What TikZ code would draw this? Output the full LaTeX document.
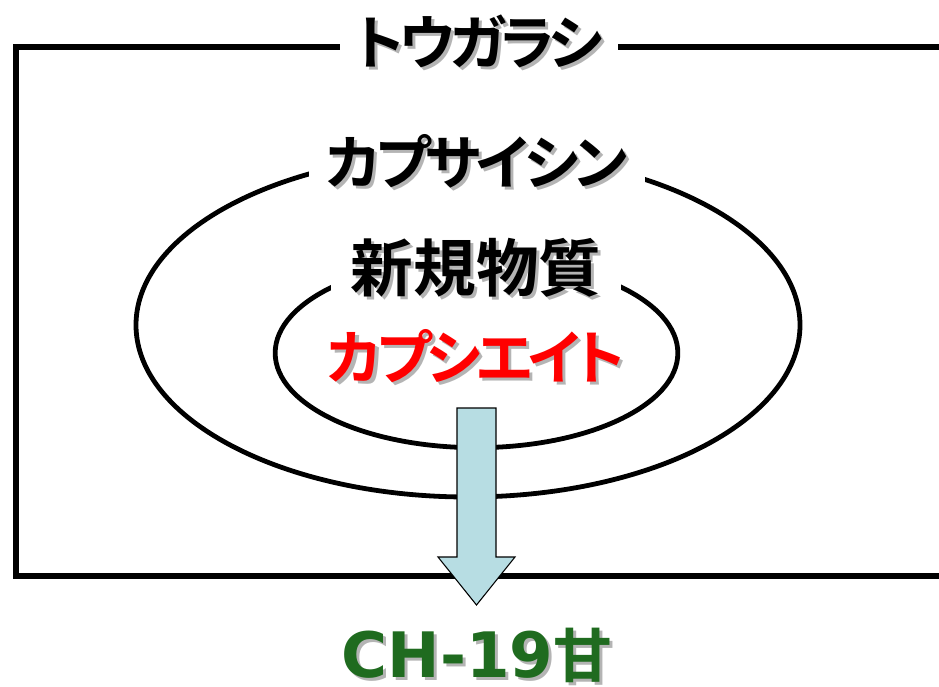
\documentclass[tikz,border=0pt]{standalone}
\usepackage{fontspec}
\usetikzlibrary{calc}
\newfontfamily\jpfont[RawFeature=+palt]{Noto Sans CJK JP Bold}
\newfontfamily\kanafont[RawFeature=+palt, LetterSpace=-8]{Noto Sans CJK JP Bold}
\newfontfamily\latinfont{DejaVu Sans Bold}
\definecolor{ink}{HTML}{000000}
\definecolor{shade}{HTML}{B4B4B4}
\definecolor{hot}{HTML}{FF0000}
\definecolor{leaf}{HTML}{1F6B1F}
\definecolor{flow}{HTML}{B7DDE3}
\tikzset{
  frame/.style={draw=ink, line width=4.5pt},
  ring/.style={draw=ink, line width=3.6pt},
  ttl/.style={
    anchor=base, fill=white, inner xsep=13pt, inner ysep=3pt,
    font=\kanafont\fontsize{44}{48}\selectfont},
  res/.style={anchor=base, inner sep=0pt, font=\fontsize{44}{48}\selectfont},
  blockarrow/.style={draw=ink, line width=0.8pt, fill=flow, line join=miter},
}
% text with a grey drop shadow
\newcommand{\shd}[2]{\makebox[0pt][l]{\kern2.3pt\raisebox{-2.3pt}{\color{shade}#2}}{\color{#1}#2}}

\begin{document}
\begin{tikzpicture}[x=0.75pt, y=-0.75pt]
\useasboundingbox (0,0) rectangle (939,686);

% =====================================================================
% the frame, open to the right
\draw[frame] (939,46.5) -- (16,46.5) -- (16,576) -- (939,576);

% the two rings
\draw[ring] (468,325) ellipse [x radius=249pt, y radius=129pt];
\draw[ring] (476.5,353) ellipse [x radius=151pt, y radius=71pt];

% =====================================================================
\node[ttl, inner xsep=11pt] (pepper) at (479,64) {\shd{ink}{トウガラシ}};
\node[ttl] (capsaicin) at (477,184) {\shd{ink}{カプサイシン}};
\node[ttl, font=\jpfont\fontsize{47}{50}\selectfont, inner xsep=15pt]
  (novel) at (476,291) {\shd{ink}{新規物質}};
\node[ttl, fill=none] (capsiate) at (476,379) {\shd{hot}{カプシエイト}};

% the outcome
\node[res] (variety) at (477,677) {\shd{leaf}{{\latinfont\fontsize{47}{50}\selectfont CH-19}{\jpfont 甘}}};

% the block arrow
\coordinate (flowtop) at (476.5,408);
\coordinate (flowtip) at (476.5,605);
\draw[blockarrow]
  ($(flowtop)+(-19.5,0)$) -- ($(flowtop)+(19.5,0)$) -- ($(flowtip)+(19.5,-48)$)
  -- ($(flowtip)+(38.5,-48)$) -- (flowtip) -- ($(flowtip)+(-38.5,-48)$)
  -- ($(flowtip)+(-19.5,-48)$) -- cycle;

\end{tikzpicture}
\end{document}
